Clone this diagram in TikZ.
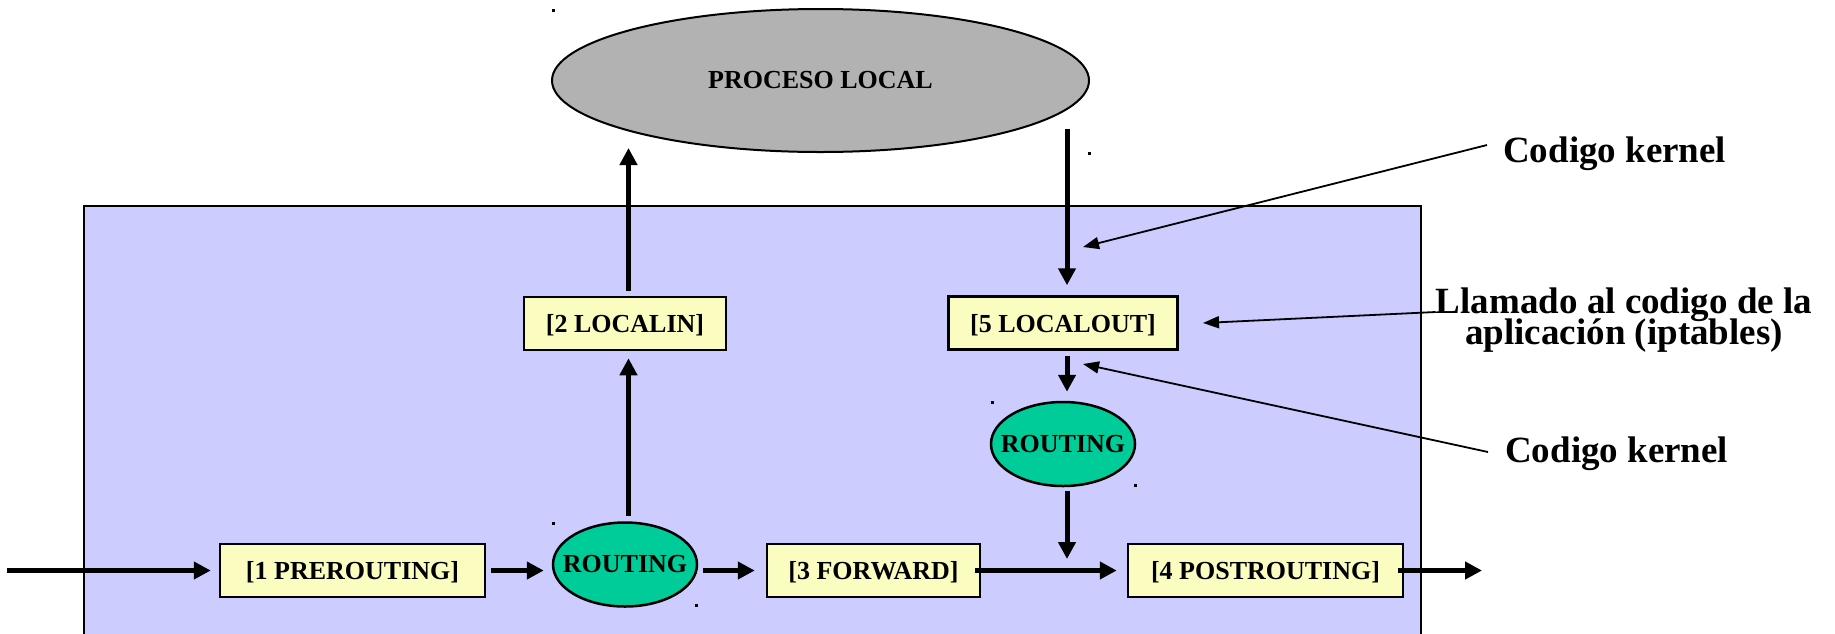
\documentclass[tikz,border=0pt]{standalone}
\usepackage{fontspec}
\setmainfont{Liberation Serif}
\usetikzlibrary{arrows.meta,shapes.geometric,calc}

\definecolor{zone}{RGB}{204,204,255}
\definecolor{hookfill}{RGB}{250,252,192}
\definecolor{procgray}{RGB}{178,178,178}
\definecolor{routegreen}{RGB}{0,204,153}

\begin{document}
\begin{tikzpicture}[x=1pt,y=-1pt,
  hookbox/.style={draw, line width=2.5pt, fill=hookfill, minimum height=53pt,
    inner sep=0pt, text height=18pt, text depth=0pt,
    font=\fontsize{26}{30}\selectfont\bfseries},
  router/.style={ellipse, draw, line width=2.5pt, fill=routegreen,
    minimum width=144pt, minimum height=84pt, inner sep=0pt,
    font=\fontsize{26}{30}\selectfont\bfseries},
  flow/.style={line width=5pt, -{Triangle[length=17pt,width=17pt]}},
  pointer/.style={line width=1.8pt, -{Triangle[length=16pt,width=12pt]}},
  note/.style={inner sep=0pt, font=\fontsize{37}{31}\selectfont\bfseries},
  speck/.style={fill=black}
]
\useasboundingbox (0,0) rectangle (1835,633);

% kernel zone
\fill[zone] (84,206) rectangle (1421,660);
\draw[line width=2pt] (84,660) -- (84,206) -- (1421,206) -- (1421,660);

% user space process
\node[ellipse, draw, line width=2pt, fill=procgray, minimum width=537pt,
      minimum height=143pt, inner sep=0pt,
      font=\fontsize{26}{30}\selectfont\bfseries] (proc) at (820.5,80.5) {PROCESO LOCAL};

% netfilter hooks
\node[hookbox, minimum width=265pt] (pre)  at (352.5,570.5) {[1 PREROUTING]};
\node[router] (r1) at (625,564.5) {\makebox[0pt]{ROUTING}};
\node[hookbox, minimum width=213pt] (fwd)  at (873.5,570.5) {[3 FORWARD]};
\node[hookbox, minimum width=275pt] (post) at (1265.5,570.5) {[4 POSTROUTING]};
\node[hookbox, minimum width=202pt] (lin)  at (625,323.5) {[2 LOCALIN]};
\node[hookbox, minimum width=229pt] (lout) at (1063,323) {[5 LOCALOUT]};
\node[router] (r2) at (1063,444) {\makebox[0pt]{ROUTING}};

% packet path
\coordinate (src)  at (7,570.5);
\coordinate (sink) at (1482,570.5);
\draw[flow, shorten >=8pt] (src) -- (pre.west);
\draw[flow, shorten <=5pt, shorten >=8pt] (pre.east) -- (pre.east -| r1.west);
\draw[flow, shorten <=5pt, shorten >=11pt] (fwd.west -| r1.east) -- (fwd.west);
\draw[flow, shorten <=-6pt, shorten >=10pt] (fwd.east) -- (post.west);
\draw[flow, shorten <=-6pt] (post.east) -- (sink);
\draw[flow, shorten <=5.5pt, shorten >=7pt] ([xshift=3.5pt]r1.north) -- ([xshift=3.5pt]r1.north |- lin.south);
\draw[flow, shorten <=5pt, shorten >=-5pt] ([xshift=3.5pt]lin.north) -- ([xshift=3.5pt]lin.north |- proc.south);
\draw[flow, shorten <=-24pt, shorten >=10pt] ([xshift=4pt]lout.north |- proc.south) -- ([xshift=4pt]lout.north);
\draw[flow, shorten <=5pt, shorten >=9pt] ([xshift=4pt]lout.south) -- ([xshift=4pt]lout.south |- r2.north);
\draw[flow, shorten <=4pt, shorten >=11.5pt] ([xshift=4pt]r2.south) -- ([xshift=4pt]r2.south |- fwd.east);

% annotations
\node[note, anchor=base west] (ktop) at (1503,162) {Codigo kernel};
\node[note, align=center, anchor=center,
      font={\fontsize{37}{31}\selectfont\bfseries\lineskiplimit=-100pt}]
      (call) at (1624,320) {Llamado al codigo de la\\aplicación (iptables)};
\node[note, anchor=base west] (kbot) at (1505,462) {Codigo kernel};

\coordinate (tipTop)  at (1083,247);
\coordinate (tipCall) at (1203,323);
\coordinate (tipBot)  at (1083,364);
\draw[pointer] ([shift={(-16pt,17pt)}]ktop.base west) -- (tipTop);
\draw[pointer] ([yshift=8pt]call.west) -- (tipCall);
\draw[pointer] ([shift={(-17pt,10pt)}]kbot.base west) -- (tipBot);

% stray frame markers
\fill[speck] (552,9) rectangle ++(2.5,2.5);
\fill[speck] (1088,152) rectangle ++(2.5,2.5);
\fill[speck] (552,522) rectangle ++(2.5,2.5);
\fill[speck] (695,604) rectangle ++(2.5,2.5);
\fill[speck] (991,401) rectangle ++(2.5,2.5);
\fill[speck] (1134,484) rectangle ++(2.5,2.5);
\end{tikzpicture}
\end{document}
